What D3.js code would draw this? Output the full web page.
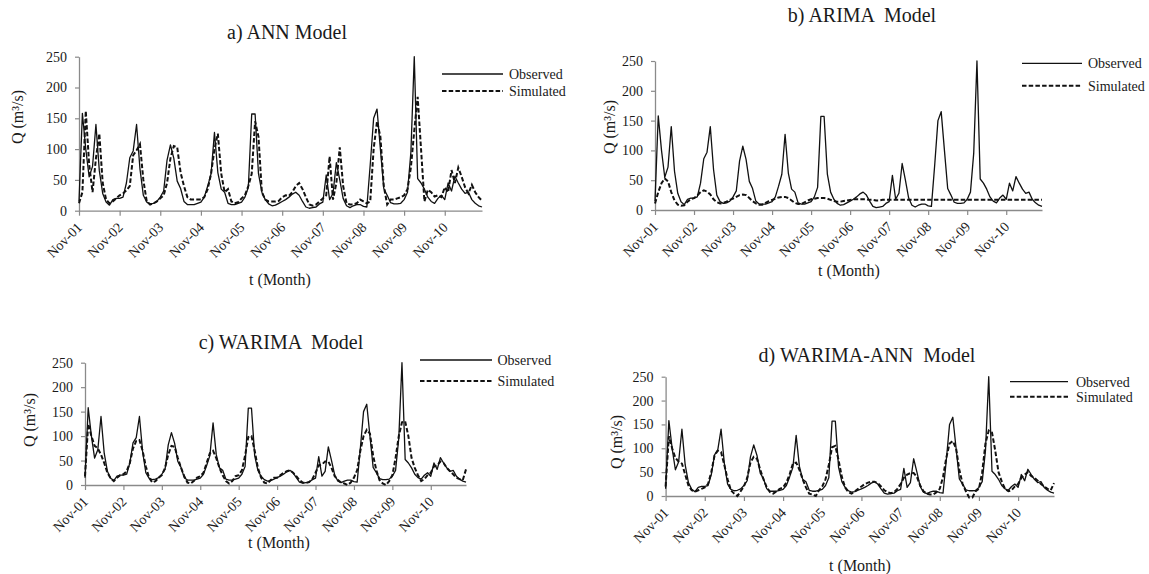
<!DOCTYPE html>
<html>
<head>
<meta charset="utf-8">
<script src="https://cdn.jsdelivr.net/npm/d3@7"></script>
<style>
  body { margin: 0; background: #fff; }
  text { font-family: "Liberation Serif", "Times New Roman", serif; fill: #1a1a1a; }
</style>
</head>
<body>
<svg id="chart" width="1149" height="574"></svg>
<script>
// ---------------- DATA ----------------
const monthNames = ["Jan","Feb","Mar","Apr","May","Jun","Jul","Aug","Sep","Oct","Nov","Dec"];
const tickLabels = ["Nov-01","Nov-02","Nov-03","Nov-04","Nov-05","Nov-06","Nov-07","Nov-08","Nov-09","Nov-10"];
const yTicks = [0, 50, 100, 150, 200, 250];

// Observed monthly discharge (Nov-01 .. Oct-11)
const observed = [
  15,158,100,55,72,140,65,28,14,9,18,20,
  20,22,45,86,97,140,68,25,14,11,12,15,
  22,32,82,107,85,48,36,15,10,10,10,12,
  14,22,40,60,127,62,35,30,12,10,10,12,
  14,22,38,157,157,60,30,18,11,8,9,12,
  15,18,22,27,30,25,15,6,4,5,6,11,
  14,58,18,28,78,50,20,8,5,8,10,10,
  7,6,75,150,165,100,36,25,13,11,11,12,
  18,30,95,250,52,45,35,22,15,12,20,25,
  18,45,32,56,45,35,28,30,18,12,8,6
];
const simANN = [
  12,30,162,75,30,85,125,45,18,12,15,20,
  25,28,33,40,90,98,108,50,15,10,12,15,
  20,25,45,85,105,103,62,40,22,18,18,18,
  18,22,35,60,100,125,60,30,35,15,12,14,
  20,25,40,60,145,120,30,18,15,15,15,16,
  22,25,24,30,40,45,35,22,10,8,10,15,
  20,25,88,18,45,103,40,12,10,10,12,18,
  15,12,15,100,145,120,40,10,18,18,20,22,
  25,35,70,130,185,100,15,34,30,23,25,22,
  38,30,66,45,70,55,38,28,42,30,22,16
];
const simARIMA = [
  11,30,45,53,48,30,16,9,7,8,14,18,
  20,24,30,33,31,26,18,13,11,12,14,17,
  19,22,25,26,25,20,15,11,9,9,12,15,
  17,19,21,22,22,20,16,12,10,10,13,16,
  18,19,20,20,20,19,17,15,14,14,15,16,
  17,18,18,18,18,18,17,17,16,16,17,17,
  17,17,17,17,17,17,17,17,17,17,17,17,
  17,17,17,17,17,17,17,17,17,17,17,17,
  17,17,17,17,17,17,17,17,17,17,17,17,
  17,17,17,17,17,17,17,17,17,17,17,17
];
const simWARIMA = [
  18,125,100,80,75,62,45,25,14,8,15,20,
  22,28,45,75,90,92,70,38,15,5,8,15,
  20,35,62,80,78,55,35,18,5,3,8,15,
  18,25,45,65,70,55,35,20,8,3,8,18,
  20,30,60,98,100,70,35,15,5,3,10,15,
  15,20,25,28,30,25,18,10,5,4,6,12,
  25,40,42,48,48,35,18,10,5,3,0,5,
  15,30,70,100,113,105,60,30,10,3,0,8,
  20,55,100,128,130,100,55,35,20,8,12,20,
  25,38,40,48,45,35,28,22,15,12,10,32
];
const simWARIMAANN = [
  20,125,100,80,72,68,45,22,12,9,12,15,
  18,25,50,85,95,92,65,35,12,5,0,10,
  20,38,70,82,78,55,35,18,8,5,10,15,
  18,28,45,68,70,55,35,18,5,3,0,12,
  20,35,65,102,105,75,40,18,8,5,10,15,
  20,25,28,30,30,27,20,12,8,6,8,15,
  25,38,45,48,48,40,22,10,5,3,3,8,
  15,40,80,110,115,100,55,25,10,-3,-3,10,
  15,50,110,137,133,95,50,30,15,10,12,20,
  25,38,45,50,42,38,32,25,20,15,12,27
];
const titles = ["a) ANN Model", "b) ARIMA  Model", "c) WARIMA  Model", "d) WARIMA-ANN  Model"];
const legendLabels = ["Observed", "Simulated"];

// month categories Nov-01 .. Oct-11
const months = observed.map((_, i) => {
  const abs = 10 + i;
  const yr = 1 + Math.floor(abs / 12);
  return monthNames[abs % 12] + "-" + String(yr).padStart(2, "0");
});

// ---------------- LAYOUT ----------------
const panels = [
  { sim: simANN, x0: 79, x1: 482, yTop: 56.7, yBot: 210.7, titleX: 287, titleY: 32,
    legX1: 442, legX2: 503, legY1: 74, legY2: 91, legTX: 509, yLabX: 17, yLabY: 117, xLabX: 280, xLabY: 279 },
  { sim: simARIMA, x0: 655, x1: 1042, yTop: 61, yBot: 210, titleX: 862, titleY: 15,
    legX1: 1022, legX2: 1082, legY1: 63.3, legY2: 85.7, legTX: 1088, yLabX: 609, yLabY: 127, xLabX: 849, xLabY: 270 },
  { sim: simWARIMA, x0: 85, x1: 466, yTop: 362.7, yBot: 485, titleX: 281, titleY: 342,
    legX1: 420, legX2: 492, legY1: 360, legY2: 381, legTX: 497.5, yLabX: 29, yLabY: 420, xLabX: 279, xLabY: 542 },
  { sim: simWARIMAANN, x0: 665.6, x1: 1054, yTop: 376.7, yBot: 496, titleX: 867, titleY: 355,
    legX1: 1010, legX2: 1068, legY1: 381.7, legY2: 396.7, legTX: 1076, yLabX: 616, yLabY: 442, xLabX: 860, xLabY: 565 }
];

const svg = d3.select("#chart");
const axisColor = "#8a8a8a";
const dash = "4.5,2.2";

panels.forEach((p, idx) => {
  const g = svg.append("g");
  const x = d3.scalePoint().domain(months).range([p.x0, p.x1]).padding(0);
  const y = d3.scaleLinear().domain([0, 250]).range([p.yBot, p.yTop]);

  // Y axis
  const ya = g.append("g").attr("transform", `translate(${p.x0},0)`)
    .call(d3.axisLeft(y).tickValues(yTicks).tickSize(4).tickSizeOuter(0).tickPadding(8));
  ya.attr("font-family", null);
  ya.select(".domain").attr("stroke", axisColor).attr("stroke-width", 1.3);
  ya.selectAll(".tick line").attr("stroke", axisColor).attr("stroke-width", 1.2);
  ya.selectAll(".tick text").style("font-size", "14px").attr("fill", "#1a1a1a");

  // X axis
  const xa = g.append("g").attr("transform", `translate(0,${p.yBot})`)
    .call(d3.axisBottom(x).tickValues(tickLabels).tickSize(5).tickSizeOuter(0));
  xa.attr("font-family", null);
  xa.select(".domain").attr("stroke", axisColor).attr("stroke-width", 1.3);
  xa.selectAll(".tick line").attr("stroke", axisColor).attr("stroke-width", 1.2);
  xa.selectAll(".tick text")
    .style("font-size", "14px").attr("fill", "#1a1a1a")
    .attr("x", 0).attr("y", 0).attr("dy", "0.35em")
    .attr("text-anchor", "end")
    .attr("transform", "translate(0,14) rotate(-45)");

  // Lines
  const line = d3.line().x((d, i) => x(months[i])).y(d => y(d));
  g.append("path").datum(observed).attr("d", line)
    .attr("fill", "none").attr("stroke", "#111").attr("stroke-width", 1.3)
    .attr("stroke-linejoin", "round");
  g.append("path").datum(p.sim).attr("d", line)
    .attr("fill", "none").attr("stroke", "#111").attr("stroke-width", 2)
    .attr("stroke-dasharray", dash);

  // Title
  g.append("text").attr("x", p.titleX).attr("y", p.titleY).attr("dy", "0.35em")
    .attr("text-anchor", "middle").style("font-size", "20px").style("white-space", "pre")
    .text(titles[idx]);

  // Axis titles
  g.append("text").attr("x", p.xLabX).attr("y", p.xLabY).attr("dy", "0.35em")
    .attr("text-anchor", "middle").style("font-size", "16px").text("t (Month)");
  g.append("text").attr("transform", `translate(${p.yLabX},${p.yLabY}) rotate(-90)`)
    .attr("dy", "0.35em").attr("text-anchor", "middle").style("font-size", "16px")
    .text("Q (m³/s)");

  // Legend
  g.append("line").attr("x1", p.legX1).attr("x2", p.legX2).attr("y1", p.legY1).attr("y2", p.legY1)
    .attr("stroke", "#111").attr("stroke-width", 1.3);
  g.append("line").attr("x1", p.legX1).attr("x2", p.legX2).attr("y1", p.legY2).attr("y2", p.legY2)
    .attr("stroke", "#111").attr("stroke-width", 2).attr("stroke-dasharray", dash);
  g.append("text").attr("x", p.legTX).attr("y", p.legY1).attr("dy", "0.35em")
    .style("font-size", "14px").text(legendLabels[0]);
  g.append("text").attr("x", p.legTX).attr("y", p.legY2).attr("dy", "0.35em")
    .style("font-size", "14px").text(legendLabels[1]);
});
</script>
</body>
</html>
